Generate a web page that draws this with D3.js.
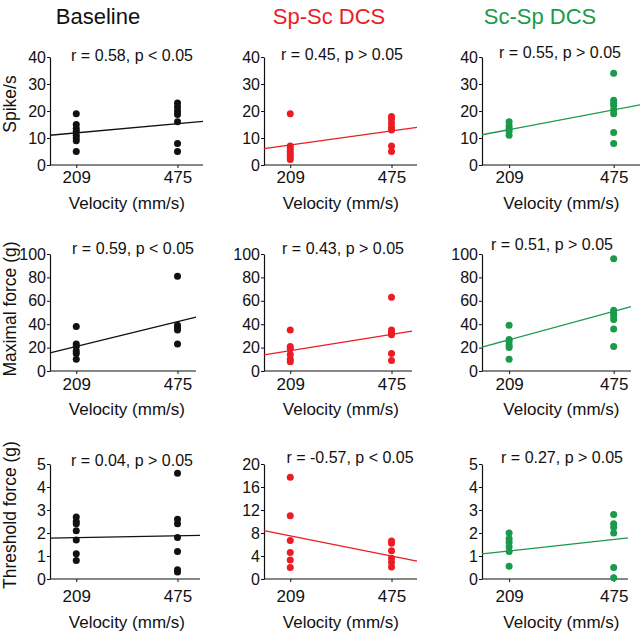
<!DOCTYPE html>
<html>
<head>
<meta charset="utf-8">
<script src="https://cdn.jsdelivr.net/npm/d3@7"></script>
<style>
  html, body { margin: 0; padding: 0; background: #fff; }
  svg { display: block; font-family: "Liberation Sans", Arial, Helvetica, sans-serif; }
</style>
</head>
<body>
<svg id="chart" width="640" height="632"></svg>
<script>
// ---------------- data ----------------
const conditions = ["Baseline", "Sp-Sc DCS", "Sc-Sp DCS"];
const measures = ["Spike/s", "Maximal force (g)", "Threshold force (g)"];
const velocityTicks = [209, 475];
const xAxisLabel = "Velocity (mm/s)";

const spikeTicks = [0, 10, 20, 30, 40];
const maxForceTicks = [0, 20, 40, 60, 80, 100];
const thresholdTicks = [0, 1, 2, 3, 4, 5];
const thresholdTicksSpSc = [0, 4, 8, 12, 16, 20];

// values per condition [Baseline, Sp-Sc, Sc-Sp]
const spikeAt209 = [[19, 15, 13.5, 12.5, 11, 10, 9, 5], [19, 7, 6, 5, 4, 3, 2], [16, 14.5, 13.5, 12.5, 11]];
const spikeAt475 = [[23, 21.5, 20, 18.7, 16, 8, 5], [18, 17, 15.5, 14, 13, 7, 5], [34, 24, 23, 22, 20.5, 19, 12, 8]];
const maxForceAt209 = [[38, 23, 21, 17, 15, 10], [35, 21, 19, 14, 10, 8], [39, 27, 25, 22, 20, 10]];
const maxForceAt475 = [[81, 39, 37, 35, 23], [63, 35, 33, 31, 15, 9], [96, 52, 49, 47, 44, 36, 21]];
const thresholdAt209 = [[2.7, 2.5, 2.4, 2.1, 1.7, 1.1, 0.8], [17.7, 11, 6.7, 4.6, 3.3, 2], [2.0, 1.75, 1.6, 1.4, 1.2, 0.55]];
const thresholdAt475 = [[4.6, 2.6, 2.4, 1.8, 1.2, 0.4, 0.3], [6.6, 6.2, 4.9, 3.6, 2.9, 2.1], [2.8, 2.4, 2.25, 2.0, 0.5, 0.05]];

// regression line values at [209, 475]
const spikeFit = [[11.9, 15.3], [7.4, 12.6], [13.1, 20.4]];
const maxForceFit = [[21, 42.2], [17.3, 31.2], [26.7, 51]];
const thresholdFit = [[1.8, 1.88], [7.5, 4.0], [1.22, 1.72]];

const spikeStats = ["r = 0.58, p < 0.05", "r = 0.45, p > 0.05", "r = 0.55, p > 0.05"];
const maxForceStats = ["r = 0.59, p < 0.05", "r = 0.43, p > 0.05", "r = 0.51, p > 0.05"];
const thresholdStats = ["r = 0.04, p > 0.05", "r = -0.57, p < 0.05", "r = 0.27, p > 0.05"];

// ---------------- layout & style ----------------
const colors = ["#111111", "#ec1c24", "#1a9a4a"];
const colX = [50, 264, 482];              // y-axis positions
const colRange = [[50, 203], [264, 417], [482, 640]];   // x scale ranges
const xDomain = [140, 542];
const axisEnd = [[203, 417, 640], [196, 412, 631], [200, 417, 628]];
const rowY = [[57, 165], [254, 371], [464, 579]];
const tickPad = [3, 4, 8];
const velLabelOffset = [44, 44, 49];
const statPos = [
  [[132, 61], [342, 60], [560, 58]],
  [[133, 254], [343, 254], [552, 250]],
  [[132, 466], [350, 463], [562, 463]]
];
const titlePos = [[98, 24], [329, 24], [540, 24]];
const yLabelPos = [[16, 104], [16, 309], [16, 515]];

const rows = [
  { at209: spikeAt209, at475: spikeAt475, fit: spikeFit, stats: spikeStats, ticks: [spikeTicks, spikeTicks, spikeTicks] },
  { at209: maxForceAt209, at475: maxForceAt475, fit: maxForceFit, stats: maxForceStats, ticks: [maxForceTicks, maxForceTicks, maxForceTicks] },
  { at209: thresholdAt209, at475: thresholdAt475, fit: thresholdFit, stats: thresholdStats, ticks: [thresholdTicks, thresholdTicksSpSc, thresholdTicks] }
];

const svg = d3.select("#chart");

// column titles
conditions.forEach((c, i) => {
  svg.append("text")
    .attr("x", titlePos[i][0]).attr("y", titlePos[i][1])
    .attr("text-anchor", "middle")
    .attr("font-size", 22)
    .attr("fill", colors[i])
    .text(c);
});

// y-axis labels
measures.forEach((m, r) => {
  svg.append("text")
    .attr("transform", `translate(${yLabelPos[r][0]},${yLabelPos[r][1]}) rotate(-90)`)
    .attr("text-anchor", "middle")
    .attr("font-size", 17.5)
    .attr("fill", "#111")
    .text(m);
});

rows.forEach((row, r) => {
  for (let c = 0; c < 3; c++) {
    const ticks = row.ticks[c];
    const x = d3.scaleLinear().domain(xDomain).range(colRange[c]);
    const y = d3.scaleLinear().domain([0, ticks[ticks.length - 1]]).range([rowY[r][1], rowY[r][0]]);
    const g = svg.append("g");
    const x0 = colX[c], x1 = axisEnd[r][c];

    // y axis
    const ya = g.append("g")
      .attr("transform", `translate(${x0},0)`)
      .call(d3.axisLeft(y).tickValues(ticks).tickFormat(d3.format("d"))
        .tickSize(3).tickSizeOuter(0).tickPadding(1));
    ya.select(".domain").attr("stroke", "#111").attr("stroke-width", 1.2);
    ya.selectAll(".tick line").attr("stroke", "#111").attr("stroke-width", 1);
    ya.selectAll(".tick text").attr("font-size", 16).attr("fill", "#111")
      .attr("font-family", "'Liberation Sans', Arial, sans-serif");

    // x axis
    const xa = g.append("g")
      .attr("transform", `translate(0,${rowY[r][1]})`)
      .call(d3.axisBottom(x).tickValues(velocityTicks).tickFormat(d3.format("d"))
        .tickSize(3).tickSizeOuter(0).tickPadding(tickPad[r]));
    xa.select(".domain").remove();
    xa.selectAll(".tick line").attr("stroke", "#111").attr("stroke-width", 1);
    xa.selectAll(".tick text").attr("font-size", 17).attr("fill", "#111")
      .attr("font-family", "'Liberation Sans', Arial, sans-serif");
    g.append("line")
      .attr("x1", x0).attr("x2", x1)
      .attr("y1", rowY[r][1]).attr("y2", rowY[r][1])
      .attr("stroke", "#111").attr("stroke-width", 1.2);

    // x axis label
    g.append("text")
      .attr("x", (x(velocityTicks[0]) + x(velocityTicks[1])) / 2)
      .attr("y", rowY[r][1] + velLabelOffset[r])
      .attr("text-anchor", "middle")
      .attr("font-size", 17)
      .attr("fill", "#111")
      .text(xAxisLabel);

    // regression line (extended across axis)
    const f = row.fit[c];
    const slope = (f[1] - f[0]) / (velocityTicks[1] - velocityTicks[0]);
    const fitAt = v => f[0] + slope * (v - velocityTicks[0]);
    const vA = x.invert(x0), vB = x.invert(x1);
    g.append("line")
      .attr("x1", x(vA)).attr("y1", y(fitAt(vA)))
      .attr("x2", x(vB)).attr("y2", y(fitAt(vB)))
      .attr("stroke", colors[c]).attr("stroke-width", 1.3);

    // points
    const pts = row.at209[c].map(v => [velocityTicks[0], v])
      .concat(row.at475[c].map(v => [velocityTicks[1], v]));
    g.selectAll("circle").data(pts).enter().append("circle")
      .attr("cx", d => x(d[0])).attr("cy", d => y(d[1]))
      .attr("r", 3.5)
      .attr("fill", colors[c]);

    // stats text
    g.append("text")
      .attr("x", statPos[r][c][0]).attr("y", statPos[r][c][1])
      .attr("text-anchor", "middle")
      .attr("font-size", 16)
      .attr("fill", "#111")
      .text(row.stats[c]);
  }
});
</script>
</body>
</html>
